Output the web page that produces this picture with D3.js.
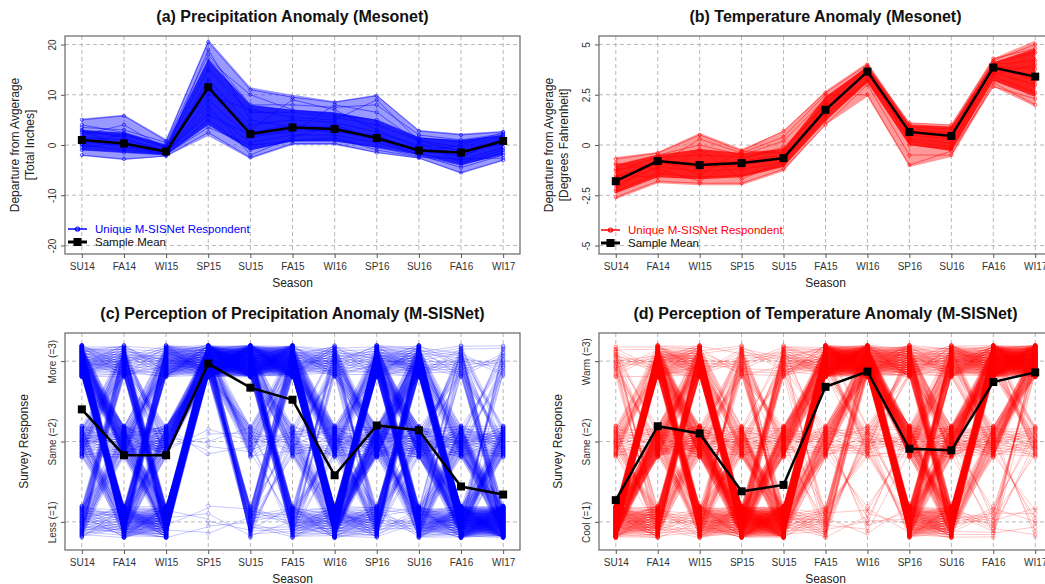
<!DOCTYPE html>
<html><head><meta charset="utf-8">
<script src="https://cdn.jsdelivr.net/npm/d3@7"></script>
<style>
body{margin:0;background:#fff;}
text{font-family:"Liberation Sans",Arial,Helvetica,sans-serif;}
</style>
</head><body>
<svg id="chart" width="1045" height="584"></svg>
<script>
// ---------------- DATA ----------------
const seasons = ["SU14","FA14","WI15","SP15","SU15","FA15","WI16","SP16","SU16","FA16","WI17"];

// (a) precipitation anomaly [inches]
const precipMean   = [1.0, 0.3, -1.3, 11.5, 2.2, 3.5, 3.2, 1.4, -1.1, -1.5, 0.8];
const precipMax    = [5.3, 6.0, 1.2, 21.0, 11.5, 10.0, 8.7, 10.0, 3.0, 2.3, 2.8];
const precipMin    = [-2.2, -3.0, -2.3, 1.8, -2.8, 0.0, 0.0, -1.6, -2.7, -5.7, -3.2];
const precipCoreHi = [3.0, 2.5, 0.0, 17.0, 8.0, 7.0, 6.5, 5.0, 1.5, 1.0, 2.0];
const precipCoreLo = [-1.0, -1.5, -2.0, 4.0, -1.0, 0.7, 0.7, -0.5, -2.0, -4.0, -2.0];
const precipResp = [
  [5.0, 5.8, 0.8, 20.5, 11.0, 9.5, 8.5, 9.8, 2.8, 2.0, 2.6],
  [3.5, 3.0, 0.5, 18.0, 8.0, 8.0, 7.5, 8.0, 2.0, 1.0, 2.2],
  [2.5, 2.0, -0.5, 15.0, 6.5, 6.5, 5.5, 4.0, 1.0, -0.5, 1.8],
  [1.5, 1.0, -1.0, 13.0, 4.0, 5.0, 4.5, 2.5, 0.0, -1.0, 1.2],
  [1.0, 0.5, -1.5, 11.0, 2.5, 4.0, 3.5, 1.5, -0.8, -1.5, 0.8],
  [0.5, 0.0, -1.6, 9.0, 1.5, 3.0, 2.8, 1.0, -1.2, -2.0, 0.5],
  [0.0, -1.0, -1.8, 7.0, 0.5, 2.0, 2.0, 0.5, -1.8, -3.0, -0.5],
  [-1.0, -1.5, -2.0, 5.0, -1.0, 1.0, 1.0, -0.5, -2.2, -4.0, -1.5],
  [-2.0, -2.8, -2.2, 2.5, -2.5, 0.3, 0.3, -1.5, -2.6, -5.5, -3.0],
  [4.0, 2.5, 0.0, 17.0, 10.0, 7.0, 6.0, 5.0, 1.5, 0.5, 2.0],
  [2.0, 4.0, -0.8, 12.0, 3.0, 9.0, 7.0, 3.0, -0.5, -2.5, 1.5],
  [-0.5, 0.5, -1.2, 6.0, 2.0, 2.5, 8.0, 6.5, 0.5, -3.5, -1.0],
  [3.0, 1.5, -1.4, 19.0, 5.0, 3.5, 2.5, 2.0, -1.5, 0.0, 2.5],
  [1.2, -0.5, -1.7, 8.0, -2.0, 1.5, 4.0, 1.2, -2.0, -4.5, -2.0],
  [0.2, 2.2, -0.3, 10.0, 7.0, 5.5, 5.0, 9.0, 0.8, -1.2, 0.2],
  [2.8, -0.2, -1.9, 3.5, 0.0, 0.8, 1.5, -1.0, -2.4, -2.8, -2.6]
];

// (b) temperature anomaly [deg F]
const tempMean   = [-1.8, -0.8, -1.0, -0.9, -0.65, 1.75, 3.65, 0.65, 0.45, 3.85, 3.4];
const tempMax    = [-0.6, -0.35, 0.6, -0.2, 0.7, 2.7, 4.1, 1.1, 1.0, 4.3, 5.2];
const tempMin    = [-2.7, -1.9, -2.0, -2.0, -1.3, 1.0, 2.4, -1.1, -0.6, 2.9, 1.9];
const tempCoreHi = [-1.0, -0.5, -0.2, -0.4, -0.2, 2.4, 3.9, 1.0, 0.9, 4.1, 4.8];
const tempCoreLo = [-2.4, -1.6, -1.7, -1.6, -1.1, 1.2, 3.1, 0.0, -0.3, 3.2, 2.4];
const tempResp = [
  [-0.7, -0.4, 0.5, -0.3, 0.7, 2.6, 4.0, 1.0, 0.9, 4.2, 5.0],
  [-1.0, -0.5, 0.0, -0.5, 0.2, 2.3, 3.9, 0.9, 0.8, 4.1, 4.6],
  [-1.3, -0.6, -0.5, -0.6, -0.2, 2.0, 3.8, 0.8, 0.6, 4.0, 4.2],
  [-1.6, -0.8, -0.9, -0.8, -0.5, 1.8, 3.7, 0.7, 0.5, 3.9, 3.8],
  [-1.8, -0.9, -1.1, -1.0, -0.7, 1.6, 3.6, 0.5, 0.3, 3.8, 3.4],
  [-2.0, -1.1, -1.3, -1.2, -0.9, 1.4, 3.5, 0.3, 0.1, 3.6, 3.0],
  [-2.3, -1.4, -1.6, -1.5, -1.0, 1.2, 3.3, 0.0, -0.2, 3.4, 2.6],
  [-2.6, -1.8, -1.9, -1.9, -1.2, 1.0, 3.0, -0.5, -0.5, 3.1, 2.0],
  [-1.2, -1.0, 0.3, -0.4, 0.4, 2.5, 2.5, -1.0, -0.3, 2.9, 2.3],
  [-2.2, -0.7, -1.5, -0.3, -0.4, 2.1, 3.9, 1.1, 1.0, 4.3, 4.8],
  [-1.5, -1.6, -0.2, -1.7, -0.8, 1.5, 3.2, 0.6, 0.4, 3.5, 4.0],
  [-0.9, -1.2, -1.8, -0.7, -0.1, 1.9, 3.6, 0.2, -0.1, 4.0, 3.2]
];

// (c) perception of precipitation: transition counts per season pair,
// rows = response at first season (1,2,3), cols = response at next season (1,2,3)
const precipPercMean = [2.40, 1.83, 1.83, 2.97, 2.67, 2.52, 1.58, 2.20, 2.14, 1.44, 1.34];
const precipTrans = [
  [[8, 6, 6], [6, 8, 6], [28, 19, 13]],
  [[22, 8, 12], [10, 15, 8], [13, 4, 8]],
  [[1, 0, 44], [0, 1, 26], [0, 0, 28]],
  [[1, 0, 0], [0, 1, 0], [11, 8, 79]],
  [[3, 2, 7], [1, 3, 5], [14, 7, 58]],
  [[12, 3, 3], [6, 4, 2], [42, 15, 13]],
  [[14, 18, 28], [5, 10, 7], [3, 8, 7]],
  [[4, 4, 14], [8, 14, 14], [16, 12, 14]],
  [[20, 6, 2], [16, 11, 3], [30, 7, 5]],
  [[54, 10, 2], [13, 9, 2], [5, 3, 2]]
];

// (d) perception of temperature
const tempPercMean = [1.27, 2.19, 2.10, 1.38, 1.46, 2.68, 2.87, 1.91, 1.89, 2.74, 2.86];
const tempTrans = [
  [[20, 24, 36], [3, 5, 5], [2, 2, 3]],
  [[5, 6, 14], [5, 16, 10], [18, 12, 14]],
  [[20, 5, 3], [22, 8, 4], [30, 5, 3]],
  [[52, 13, 7], [10, 6, 2], [4, 3, 3]],
  [[6, 10, 50], [1, 5, 16], [1, 1, 10]],
  [[1, 2, 5], [1, 4, 11], [0, 3, 73]],
  [[1, 1, 0], [2, 4, 3], [37, 24, 28]],
  [[20, 10, 10], [10, 12, 7], [11, 7, 13]],
  [[3, 6, 32], [1, 8, 20], [0, 4, 26]],
  [[1, 1, 2], [1, 5, 12], [0, 4, 74]]
];

const precipTicks = [-20, -10, 0, 10, 20];
const tempTicks = [-5, -2.5, 0, 2.5, 5];
const percTicks = [1, 2, 3];
const precipPercLabels = ["Less (=1)", "Same (=2)", "More (=3)"];
const tempPercLabels = ["Cool (=1)", "Same (=2)", "Warm (=3)"];

// ---------------- DRAW ----------------
const svg = d3.select("#chart");
const BLUE = "#0000ff", RED = "#ff0000";

const panels = {
  a: {x0: 65, x1: 520, y0: 36, y1: 254},
  b: {x0: 599, x1: 1052, y0: 36, y1: 254},
  c: {x0: 65, x1: 520, y0: 333, y1: 550},
  d: {x0: 599, x1: 1052, y0: 333, y1: 550}
};

function frame(id, P, yDomain, ticks, tickFmt, title, ylabels) {
  const x = d3.scalePoint().domain(seasons).range([P.x0, P.x1]).padding(0.4);
  const y = d3.scaleLinear().domain(yDomain).range([P.y1, P.y0]);
  const g = svg.append("g");
  svg.append("defs").append("clipPath").attr("id", "clip" + id)
    .append("rect").attr("x", P.x0).attr("y", P.y0).attr("width", P.x1 - P.x0).attr("height", P.y1 - P.y0);
  const grid = g.append("g").attr("stroke", "#b8b8b8").attr("stroke-dasharray", "4,3").attr("stroke-width", 1);
  grid.selectAll(".gx").data(seasons).join("line")
    .attr("x1", d => x(d)).attr("x2", d => x(d)).attr("y1", P.y0).attr("y2", P.y1);
  grid.selectAll(".gy").data(ticks).join("line")
    .attr("x1", P.x0).attr("x2", P.x1).attr("y1", d => y(d)).attr("y2", d => y(d));
  const ax = g.append("g").attr("transform", `translate(0,${P.y1})`)
    .call(d3.axisBottom(x).tickSize(4).tickPadding(5));
  ax.select(".domain").remove();
  ax.selectAll("line").attr("stroke", "#555");
  ax.selectAll("text").attr("fill", "#333").style("font-size", "10px").style("font-family", '"Liberation Sans",Arial,sans-serif');
  const ay = g.append("g").attr("transform", `translate(${P.x0},0)`)
    .call(d3.axisLeft(y).tickValues(ticks).tickFormat(tickFmt).tickSize(4));
  ay.select(".domain").remove();
  ay.selectAll("line").attr("stroke", "#555");
  ay.selectAll("text").attr("fill", "#333").style("font-size", "10px")
    .style("font-family", '"Liberation Sans",Arial,sans-serif')
    .attr("transform", "rotate(-90)").attr("x", 0).attr("y", -9).attr("dy", 0)
    .style("text-anchor", "middle");
  const cx = (P.x0 + P.x1) / 2;
  svg.append("text").attr("x", cx).attr("y", P.y0 - 14).attr("text-anchor", "middle")
    .style("font-size", "16px").style("font-weight", "bold").attr("fill", "#111").text(title);
  svg.append("text").attr("x", cx).attr("y", P.y1 + 33).attr("text-anchor", "middle")
    .style("font-size", "12px").attr("fill", "#222").text("Season");
  const cy = (P.y0 + P.y1) / 2;
  ylabels.forEach(t => {
    svg.append("text").attr("transform", `translate(${t.x},${cy}) rotate(-90)`)
      .attr("text-anchor", "middle").style("font-size", "12px").attr("fill", "#222").text(t.s);
  });
  const plot = svg.append("g").attr("clip-path", `url(#clip${id})`);
  return {x, y, g, plot};
}

function drawAnomaly(F, color, mn, mx, lo, hi, resp) {
  const {x, y, plot} = F;
  const area = (a, b) => d3.area().x((d, i) => x(seasons[i])).y0((d, i) => y(a[i])).y1((d, i) => y(b[i]));
  plot.append("path").datum(mn).attr("d", area(mn, mx)).attr("fill", color).attr("fill-opacity", 0.4);
  plot.append("path").datum(lo).attr("d", area(lo, hi)).attr("fill", color).attr("fill-opacity", 0.8);
  const line = d3.line().x((d, i) => x(seasons[i])).y(d => y(d));
  resp.forEach(r => {
    plot.append("path").datum(r).attr("d", line).attr("fill", "none")
      .attr("stroke", color).attr("stroke-opacity", 0.5).attr("stroke-width", 1);
    plot.selectAll(null).data(r).join("circle").attr("cx", (d, i) => x(seasons[i])).attr("cy", d => y(d))
      .attr("r", 1.6).attr("fill", "none").attr("stroke", color).attr("stroke-opacity", 0.6);
  });
}

function frac(v) { return v - Math.floor(v); }
const LPU = 5; // drawn lines per count unit

function drawPerception(F, color, trans) {
  const {x, y, plot} = F;
  const segs = [], pts = [];
  trans.forEach((mat, k) => {
    mat.forEach((row, a) => row.forEach((cnt, b) => {
      const n = cnt * LPU;
      for (let j = 0; j < n; j++) {
        const s = 0.4 * (frac(j * 0.6180339 + 0.13 * (k + 1) + 0.29 * a + 0.07 * b) - 0.5);
        const e = 0.4 * (frac(j * 0.4142136 + 0.31 * (k + 1) + 0.17 * b + 0.11 * a) - 0.5);
        segs.push({k, v0: a + 1 + s, v1: b + 1 + e});
        pts.push({k, v: a + 1 + s});
        if (k === trans.length - 1) pts.push({k: k + 1, v: b + 1 + e});
      }
    }));
  });
  plot.append("g").selectAll("line").data(segs).join("line")
    .attr("x1", d => x(seasons[d.k])).attr("x2", d => x(seasons[d.k + 1]))
    .attr("y1", d => y(d.v0)).attr("y2", d => y(d.v1))
    .attr("stroke", color).attr("stroke-opacity", 0.22).attr("stroke-width", 1);
  plot.append("g").selectAll("circle").data(pts).join("circle")
    .attr("cx", d => x(seasons[d.k])).attr("cy", d => y(d.v)).attr("r", 1.8)
    .attr("fill", "none").attr("stroke", color).attr("stroke-opacity", 0.3).attr("stroke-width", 0.8);
}

function drawMean(F, mean) {
  const {x, y, plot} = F;
  const line = d3.line().x((d, i) => x(seasons[i])).y(d => y(d));
  plot.append("path").datum(mean).attr("d", line).attr("fill", "none").attr("stroke", "#000").attr("stroke-width", 2.5);
  plot.selectAll(null).data(mean).join("rect")
    .attr("x", (d, i) => x(seasons[i]) - 4).attr("y", d => y(d) - 4)
    .attr("width", 8).attr("height", 8).attr("fill", "#000");
}

function box(P) {
  svg.append("rect").attr("x", P.x0).attr("y", P.y0).attr("width", P.x1 - P.x0).attr("height", P.y1 - P.y0)
    .attr("fill", "none").attr("stroke", "#666").attr("stroke-width", 1.2);
}

function legend(px, py, color) {
  const g = svg.append("g");
  g.append("line").attr("x1", px).attr("x2", px + 19).attr("y1", py).attr("y2", py).attr("stroke", color).attr("stroke-width", 1.5);
  g.append("circle").attr("cx", px + 9.5).attr("cy", py).attr("r", 2).attr("fill", "none").attr("stroke", color).attr("stroke-width", 1.2);
  g.append("text").attr("x", px + 27).attr("y", py + 4).style("font-size", "11.5px").attr("fill", color).text("Unique M-SISNet Respondent");
  g.append("line").attr("x1", px).attr("x2", px + 19).attr("y1", py + 13).attr("y2", py + 13).attr("stroke", "#000").attr("stroke-width", 3);
  g.append("rect").attr("x", px + 5.5).attr("y", py + 9).attr("width", 8).attr("height", 8).attr("fill", "#000");
  g.append("text").attr("x", px + 27).attr("y", py + 17).style("font-size", "11.5px").attr("fill", "#111").text("Sample Mean");
}

const fmt = d => String(d);

const FA = frame("a", panels.a, [-21.7, 21.7], precipTicks, fmt, "(a) Precipitation Anomaly (Mesonet)",
  [{x: 19, s: "Departure from Avgerage"}, {x: 34, s: "[Total Inches]"}]);
drawAnomaly(FA, BLUE, precipMin, precipMax, precipCoreLo, precipCoreHi, precipResp);
drawMean(FA, precipMean);
box(panels.a);
legend(68, 229, BLUE);

const FB = frame("b", panels.b, [-5.42, 5.42], tempTicks, fmt, "(b) Temperature Anomaly (Mesonet)",
  [{x: 553, s: "Departure from Avgerage"}, {x: 568, s: "[Degrees Fahrenheit]"}]);
drawAnomaly(FB, RED, tempMin, tempMax, tempCoreLo, tempCoreHi, tempResp);
drawMean(FB, tempMean);
box(panels.b);
legend(601, 230, RED);

const FC = frame("c", panels.c, [0.65, 3.35], percTicks, (d, i) => precipPercLabels[i], "(c) Perception of Precipitation Anomaly (M-SISNet)",
  [{x: 28, s: "Survey Response"}]);
drawPerception(FC, BLUE, precipTrans);
drawMean(FC, precipPercMean);
box(panels.c);

const FD = frame("d", panels.d, [0.65, 3.35], percTicks, (d, i) => tempPercLabels[i], "(d) Perception of Temperature Anomaly (M-SISNet)",
  [{x: 562, s: "Survey Response"}]);
drawPerception(FD, RED, tempTrans);
drawMean(FD, tempPercMean);
box(panels.d);
</script>
</body></html>
